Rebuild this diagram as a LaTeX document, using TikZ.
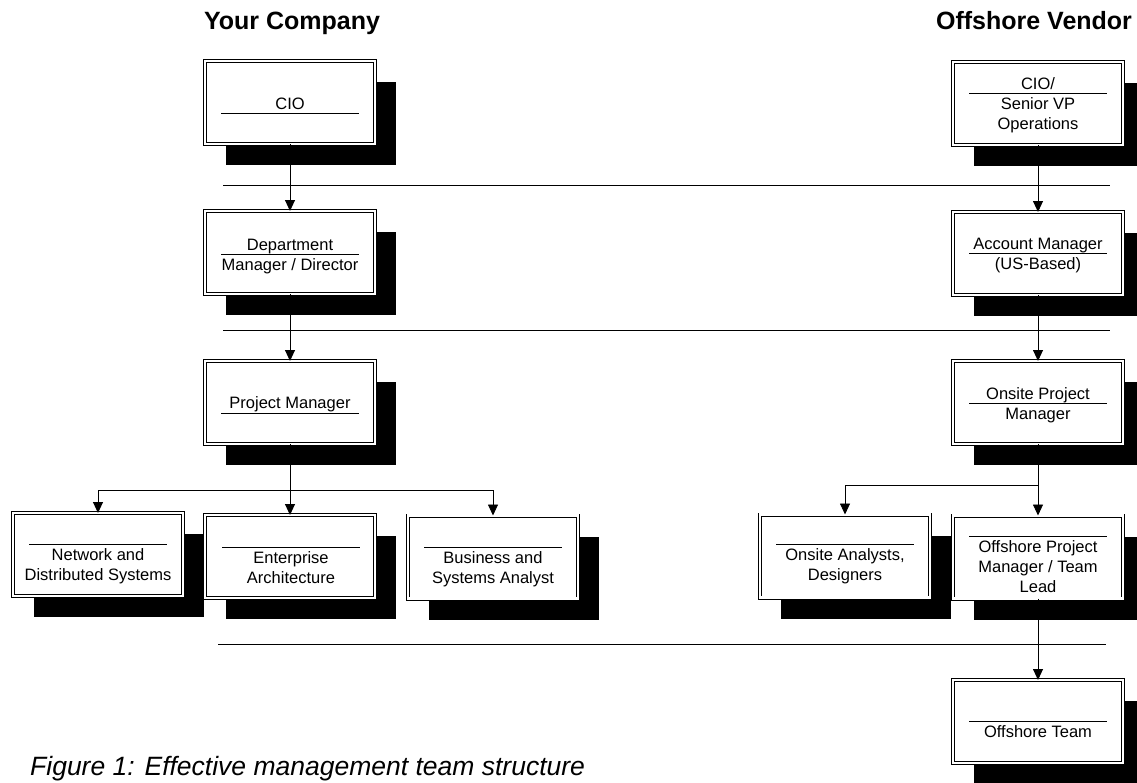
\documentclass[tikz,border=0pt]{standalone}
\usepackage{fontspec}
\setmainfont{Liberation Sans}
\usetikzlibrary{arrows.meta,shadows}
\begin{document}
\begin{tikzpicture}[x=1pt,y=-1pt,
  orgbox/.style={draw, line width=0.8pt, double, double distance=2.4pt,
    minimum width=170pt, minimum height=83pt, inner sep=0pt, outer sep=0pt,
    fill=white,
    drop shadow={shadow xshift=21pt, shadow yshift=-21pt, fill=black, draw=none, opacity=1}},
  sepline/.style={line width=0.9pt},
  lbl/.style={anchor=base, inner sep=0pt, font=\fontsize{16.5}{20}\selectfont},
  conn/.style={line width=0.9pt},
  arr/.style={conn, -{Triangle[length=11pt,width=10pt]}},
  divider/.style={line width=0.9pt},
  head/.style={anchor=base, inner sep=0pt, font=\bfseries\fontsize{25}{29}\selectfont},
  captxt/.style={anchor=base west, inner sep=0pt, font=\itshape\fontsize{26.5}{30}\selectfont}
]
\useasboundingbox (0,0) rectangle (1137,782);

% headers
\node[head] (hyc) at (292,29) {Your Company};
\node[head] (hov) at (1034,29) {Offshore Vendor};

% dividers
\draw[divider] (223,185) -- (1110,185);
\draw[divider] (223,330) -- (1110,330);
\draw[divider] (218,644) -- (1106,644);

% ---- Your Company column ----
\node[orgbox] (cio) at (290,102.5) {};
\draw[sepline] (221,113) -- (359,113);
\node[lbl] (cioA) at (290,109) {CIO};

\node[orgbox] (dept) at (290,252.5) {};
\draw[sepline] (221,254) -- (359,254);
\node[lbl] (deptA) at (290,250) {Department};
\node[lbl] (deptB) at (290,270) {Manager / Director};

\node[orgbox] (pm) at (290,402.5) {};
\draw[sepline] (221,413) -- (359,413);
\node[lbl] (pmA) at (290,408) {Project Manager};

\node[orgbox] (net) at (98,554.5) {};
\draw[sepline] (29,544) -- (167,544);
\node[lbl] (netA) at (98,560) {Network and};
\node[lbl] (netB) at (98,580) {Distributed Systems};

\node[orgbox] (ent) at (290,556.5) {};
\draw[sepline] (222,547) -- (360,547);
\node[lbl] (entA) at (291,563) {Enterprise};
\node[lbl] (entB) at (291,583) {Architecture};

\node[orgbox] (bus) at (493,557) {};
\draw[sepline] (424,547) -- (562,547);
\node[lbl] (busA) at (493,563) {Business and};
\node[lbl] (busB) at (493,583) {Systems Analyst};

% ---- Offshore Vendor column ----
\node[orgbox] (ciov) at (1038,103.5) {};
\draw[sepline] (969,93) -- (1107,93);
\node[lbl] (ciovA) at (1038,89) {CIO/};
\node[lbl] (ciovB) at (1038,109) {Senior VP};
\node[lbl] (ciovC) at (1038,129) {Operations};

\node[orgbox] (acct) at (1038,253.5) {};
\draw[sepline] (969,253) -- (1107,253);
\node[lbl] (acctA) at (1038,249) {Account Manager};
\node[lbl] (acctB) at (1038,269) {(US-Based)};

\node[orgbox] (onpm) at (1038,402.5) {};
\draw[sepline] (969,403) -- (1107,403);
\node[lbl] (onpmA) at (1038,399) {Onsite Project};
\node[lbl] (onpmB) at (1038,419) {Manager};

\node[orgbox] (ana) at (845,556) {};
\draw[sepline] (776,544) -- (914,544);
\node[lbl] (anaA) at (845,560) {Onsite Analysts,};
\node[lbl] (anaB) at (845,580) {Designers};

\node[orgbox] (offpm) at (1038,557) {};
\draw[sepline] (969,536) -- (1107,536);
\node[lbl] (offpmA) at (1038,552) {Offshore Project};
\node[lbl] (offpmB) at (1038,572) {Manager / Team};
\node[lbl] (offpmC) at (1038,592) {Lead};

\node[orgbox] (team) at (1038,721.5) {};
\draw[sepline] (969,721) -- (1107,721);
\node[lbl] (teamA) at (1038,737) {Offshore Team};

% ---- connectors ----
\draw[arr] (cio) -- (dept);
\draw[arr] (dept) -- (pm);
\coordinate (pmfork) at (290,490);
\draw[conn] (pm) -- (pmfork);
\draw[arr] (pmfork) -| (net);
\draw[arr] (pmfork) -| (bus);
\draw[arr] (pmfork) -- (pmfork |- ent.north);

\draw[arr] (ciov) -- (acct);
\draw[arr] (acct) -- (onpm);
\coordinate (onfork) at (1038,485);
\draw[conn] (onpm) -- (onfork);
\draw[arr] (onfork) -| (ana);
\draw[arr] (onfork) -- (offpm);
\draw[arr] (offpm) -- (team);

% caption
\node[captxt] (cap) at (30,775) {Figure 1: Effective management team structure};
\end{tikzpicture}
\end{document}
